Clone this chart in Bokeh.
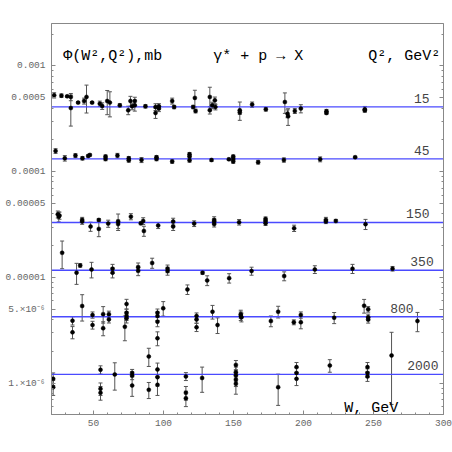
from bokeh.plotting import figure
from bokeh.models import (ColumnDataSource, Whisker, TeeHead, Range1d, FixedTicker,
                          LogAxis, Label, CustomJSTickFormatter)
from bokeh.core.properties import value
from bokeh.embed import file_html
from bokeh.resources import INLINE

# ---------------- data (W in GeV, Phi in mb) ----------------
# Q^2 = 15 GeV^2  (values x 1e-4 mb)
w15 = [21.9, 27.1, 31.2, 33.8, 33.8, 39.0, 43.3, 45.0, 49.0, 54.5, 56.2, 59.8, 61.7, 68.8,
       74.8, 76.4, 77.6, 79.5, 79.5, 87.1, 94.3, 94.3, 96.7, 96.7, 106.2, 107.6, 121.2, 122.9,
       122.4, 133.1, 133.1, 134.8, 136.7, 137.1, 154.5, 154.5, 163.3, 173.1, 186.7, 188.6,
       189.0, 193.8, 198.1, 216.4, 216.4, 243.8, 243.8]
v15 = [5.28, 5.24, 5.16, 5.09, 4.00, 4.50, 4.66, 5.09, 4.50, 4.40, 4.18, 4.66, 4.50, 4.24,
       3.81, 4.66, 4.15, 4.66, 4.24, 4.15, 4.09, 3.59, 4.15, 3.95, 4.66, 4.09, 4.09, 3.75,
       4.99, 5.09, 3.81, 4.24, 4.73, 4.09, 3.81, 3.63, 4.31, 3.89, 4.56, 3.54,
       3.34, 3.75, 3.95, 3.73, 3.59, 3.89, 3.81]
e15 = [0.30, 0.20, 0.10, 0.40, 1.30, 0.10, 0.30, 1.50, 0.10, 0.25, 0.30, 1.20, 1.20, 0.15,
       0.35, 0.50, 0.30, 0.40, 0.50, 0.15, 0.30, 0.40, 0.25, 0.25, 0.30, 0.15, 0.15, 0.15,
       0.90, 1.20, 0.30, 0.30, 0.35, 0.25, 0.75, 0.15, 0.25, 0.15, 1.00, 0.30,
       0.60, 0.20, 0.35, 0.15, 0.10, 0.25, 0.10]

# Q^2 = 45 GeV^2  (x 1e-4 mb)
w45 = [22.9, 29.5, 37.1, 42.1, 46.2, 47.4, 58.6, 58.6, 67.1, 75.2, 75.2, 84.3, 95.0, 95.0,
       106.2, 118.6, 118.6, 118.6, 134.3, 146.7, 149.8, 149.8, 149.8, 167.6, 186.0, 211.9, 236.9]
v45 = [1.57, 1.34, 1.42, 1.34, 1.41, 1.44, 1.39, 1.32, 1.42, 1.34, 1.28, 1.29, 1.37, 1.32,
       1.25, 1.46, 1.39, 1.28, 1.29, 1.31, 1.39, 1.32, 1.25, 1.23, 1.29, 1.31, 1.37]
e45 = [0.08, 0.08, 0.06, 0.05, 0.03, 0.03, 0.05, 0.05, 0.07, 0.05, 0.05, 0.07, 0.05, 0.05,
       0.05, 0.06, 0.05, 0.05, 0.04, 0.03, 0.05, 0.05, 0.05, 0.05, 0.06, 0.07, 0.03]

# Q^2 = 150 GeV^2  (x 1e-5 mb)
w150 = [24.5, 25.7, 25.2, 41.9, 41.9, 47.9, 53.8, 53.8, 60.5, 67.6, 67.6, 76.7, 83.8, 85.5,
        86.0, 96.2, 106.9, 106.9, 121.9, 136.2, 136.2, 136.2, 154.0, 172.9, 172.9, 172.9,
        193.3, 216.0, 216.0, 223.1, 244.3]
v150 = [3.95, 3.85, 3.75, 3.50, 3.38, 3.03, 3.50, 2.88, 3.23, 3.38, 3.20, 3.76, 3.25, 3.42,
        2.75, 3.10, 3.38, 3.03, 3.23, 3.50, 3.38, 3.20, 3.33, 3.58, 3.42, 3.25,
        2.92, 3.50, 3.38, 3.42, 3.19]
e150 = [0.30, 0.30, 0.40, 0.20, 0.20, 0.30, 0.10, 0.45, 0.25, 0.60, 0.30, 0.25, 0.10, 0.25,
        0.30, 0.20, 0.25, 0.25, 0.20, 0.25, 0.20, 0.20, 0.20, 0.15, 0.15, 0.15,
        0.20, 0.20, 0.15, 0.12, 0.35]

# Q^2 = 350 GeV^2  (x 1e-5 mb)
w350 = [27.6, 37.9, 40.5, 48.6, 63.6, 63.6, 81.9, 81.9, 91.9, 102.9, 102.9, 117.1, 127.9,
        131.2, 146.9, 162.9, 186.2, 208.1, 235.0, 263.6]
v350 = [1.71, 1.11, 1.30, 1.19, 1.21, 1.11, 1.25, 1.16, 1.37, 1.21, 1.15, 0.77, 1.11,
        0.937, 0.985, 1.15, 1.03, 1.19, 1.21, 1.21]
e350 = [0.50, 0.25, 0.05, 0.20, 0.12, 0.12, 0.12, 0.12, 0.15, 0.10, 0.10, 0.08, 0.04,
        0.10, 0.10, 0.10, 0.10, 0.10, 0.12, 0.06]

# Q^2 = 800 GeV^2  (x 1e-6 mb)
w800 = [35.0, 35.0, 41.9, 49.3, 49.3, 56.9, 56.9, 61.0, 61.0, 72.4, 73.6, 73.6, 73.6, 73.6,
        95.7, 95.7, 95.7, 95.7, 99.8, 123.6, 123.6, 123.6, 135.0, 138.6, 155.2, 155.2, 155.7,
        176.7, 181.9, 193.1, 198.1, 198.1, 221.9, 243.3, 246.2, 246.2, 246.2, 281.4]
v800 = [3.90, 3.03, 5.37, 4.42, 3.55, 4.50, 3.31, 4.50, 4.01, 3.42, 5.61, 4.63, 4.32, 4.11,
        4.63, 4.32, 3.82, 2.66, 5.11, 4.32, 4.00, 3.38, 4.74, 3.55, 4.50, 4.32, 4.20,
        3.87, 4.74, 3.77, 4.42, 3.77, 4.16, 5.40, 5.00, 4.20, 4.00, 3.87]
e800 = [0.35, 0.40, 1.50, 0.30, 0.30, 0.80, 0.50, 0.30, 0.30, 0.90, 0.60, 0.40, 0.40, 0.40,
        0.40, 0.40, 0.40, 0.40, 0.80, 0.30, 0.30, 0.30, 0.70, 0.60, 0.40, 0.40, 0.40,
        0.45, 0.60, 0.20, 0.30, 0.50, 0.50, 0.80, 0.30, 0.30, 0.30, 0.80]

# Q^2 = 2000 GeV^2  (x 1e-6 mb)
w2000 = [21.2, 21.2, 55.0, 55.0, 55.0, 65.2, 77.6, 77.6, 77.6, 89.5, 89.5, 95.7, 95.7, 95.7,
         116.0, 116.0, 116.0, 127.6, 151.7, 151.7, 151.7, 151.7, 151.7, 181.9, 195.0, 195.0,
         195.0, 218.8, 245.7, 245.7, 245.7, 262.9]
v2000 = [1.10, 0.917, 1.34, 0.885, 0.811, 1.21, 1.25, 1.18, 0.951, 1.79, 0.866, 1.35, 1.14, 0.966,
         1.16, 0.811, 0.721, 1.12, 1.49, 1.27, 1.18, 1.08, 0.987, 0.917, 1.42, 1.25,
         1.10, 1.47, 1.42, 1.25, 1.16, 1.83]
e2000 = [0.15, 0.15, 0.12, 0.12, 0.12, 0.35, 0.10, 0.10, 0.20, 0.35, 0.15, 0.20, 0.20, 0.20,
         0.10, 0.12, 0.12, 0.30, 0.15, 0.15, 0.15, 0.15, 0.20, 0.30, 0.15, 0.15,
         0.15, 0.20, 0.15, 0.12, 0.12, 1.20]

# fitted constant levels for each Q^2
q_labels = ["15", "45", "150", "350", "800", "2000"]
q_levels = [4.10e-4, 1.32e-4, 3.31e-5, 1.17e-5, 4.25e-6, 1.21e-6]

# tick labels
y_major = [1e-3, 5e-4, 1e-4, 5e-5, 1e-5, 5e-6, 1e-6]
y_labels = ["0.001", "0.0005", "0.0001", "0.00005", "0.00001", "5.\u00d710\u207b\u2076", "1.\u00d710\u207b\u2076"]
x_major = [50, 100, 150, 200, 250, 300]

# ---------------- layout constants ----------------
label_right_x = [290.0, 290.0, 290.0, 293.0, 278.6, 296.4]
MONO = "Liberation Mono"
GRAY = "#888888"

bands = [(w15, v15, e15, 1e-4), (w45, v45, e45, 1e-4), (w150, v150, e150, 1e-5),
         (w350, v350, e350, 1e-5), (w800, v800, e800, 1e-6), (w2000, v2000, e2000, 1e-6)]

p = figure(width=452, height=452, x_range=Range1d(20, 300), y_range=Range1d(5.06e-7, 2.52e-3),
           y_axis_type="log", output_backend="svg", toolbar_location=None,
           min_border_left=51, min_border_right=9, min_border_top=23, min_border_bottom=38,
           background_fill_color="white", border_fill_color="white")
p.xgrid.visible = False
p.ygrid.visible = False
p.outline_line_color = GRAY

y_minor = []
for n in range(-7, -2):
    for k in [2, 3, 4, 6, 7, 8, 9]:
        y_minor.append(k * 10.0 ** n)
x_minor = [x for x in range(20, 301, 10) if x % 50 != 0]

fmt_code = """
for (let i = 0; i < vals.length; i++) {
  if (Math.abs(tick / vals[i] - 1) < 1e-6) { return labs[i]; }
}
return '';
"""
yfmt = CustomJSTickFormatter(args=dict(vals=y_major, labs=y_labels), code=fmt_code)

for ax in [p.yaxis[0], p.xaxis[0]]:
    ax.axis_line_color = GRAY
    ax.major_tick_line_color = GRAY
    ax.minor_tick_line_color = GRAY
    ax.major_tick_in = 4
    ax.major_tick_out = 0
    ax.minor_tick_in = 2
    ax.minor_tick_out = 0
    ax.major_label_text_font = MONO
    ax.major_label_text_font_size = "9.5px"
    ax.major_label_text_color = "#666666"
    ax.major_label_standoff = 6

p.yaxis[0].ticker = FixedTicker(ticks=y_major, minor_ticks=y_minor)
p.yaxis[0].formatter = yfmt
p.xaxis[0].ticker = FixedTicker(ticks=x_major, minor_ticks=x_minor)
p.xaxis[0].major_label_standoff = 5

raxis = LogAxis(ticker=FixedTicker(ticks=y_major, minor_ticks=y_minor),
                formatter=CustomJSTickFormatter(code="return '';"),
                axis_line_color=GRAY, major_tick_line_color=GRAY, minor_tick_line_color=GRAY,
                major_tick_in=4, major_tick_out=0, minor_tick_in=2, minor_tick_out=0,
                major_label_text_font_size="0px", major_label_standoff=0)
p.add_layout(raxis, "right")

# horizontal level lines
lev_src = ColumnDataSource(dict(x0=[20] * len(q_levels), x1=[300] * len(q_levels), y=q_levels,
                                lab=q_labels, lx=label_right_x))
p.segment(x0="x0", y0="y", x1="x1", y1="y", source=lev_src, line_color="#4a4aff", line_width=1.3)
p.text(x="lx", y="y", text="lab", source=lev_src, text_font=value(MONO), text_font_size="13px",
       text_color="#444444", text_align="right", text_baseline="bottom", y_offset=-4)

for w, v, e, scale in bands:
    vv = [a * scale for a in v]
    lo = [(a - b) * scale for a, b in zip(v, e)]
    hi = [(a + b) * scale for a, b in zip(v, e)]
    src = ColumnDataSource(dict(w=w, v=vv, lo=lo, hi=hi))
    wh = Whisker(source=src, base="w", lower="lo", upper="hi", line_color="#555555", line_width=1,
                 upper_head=TeeHead(size=4, line_color="#555555", line_width=1),
                 lower_head=TeeHead(size=4, line_color="#555555", line_width=1))
    p.add_layout(wh)
    p.scatter(x="w", y="v", source=src, marker="circle", size=4, fill_color="black",
              line_color="black", line_width=0.5)

# text annotations
p.add_layout(Label(x=28.4, y=1.22e-3, text="\u03a6(W\u00b2,Q\u00b2),mb", text_font=MONO,
                   text_font_size="15px", text_color="black", text_baseline="alphabetic"))
p.add_layout(Label(x=135.5, y=1.22e-3, text="\u03b3* + p \u2192 X", text_font=MONO,
                   text_font_size="15px", text_color="black", text_baseline="alphabetic"))
p.add_layout(Label(x=246.2, y=1.22e-3, text="Q\u00b2, GeV\u00b2", text_font=MONO,
                   text_font_size="15px", text_color="black", text_baseline="alphabetic"))
p.add_layout(Label(x=229.1, y=5.78e-7, text="W, GeV", text_font=MONO,
                   text_font_size="15px", text_color="black", text_baseline="alphabetic"))

open("out.html", "w").write(file_html(p, INLINE))
